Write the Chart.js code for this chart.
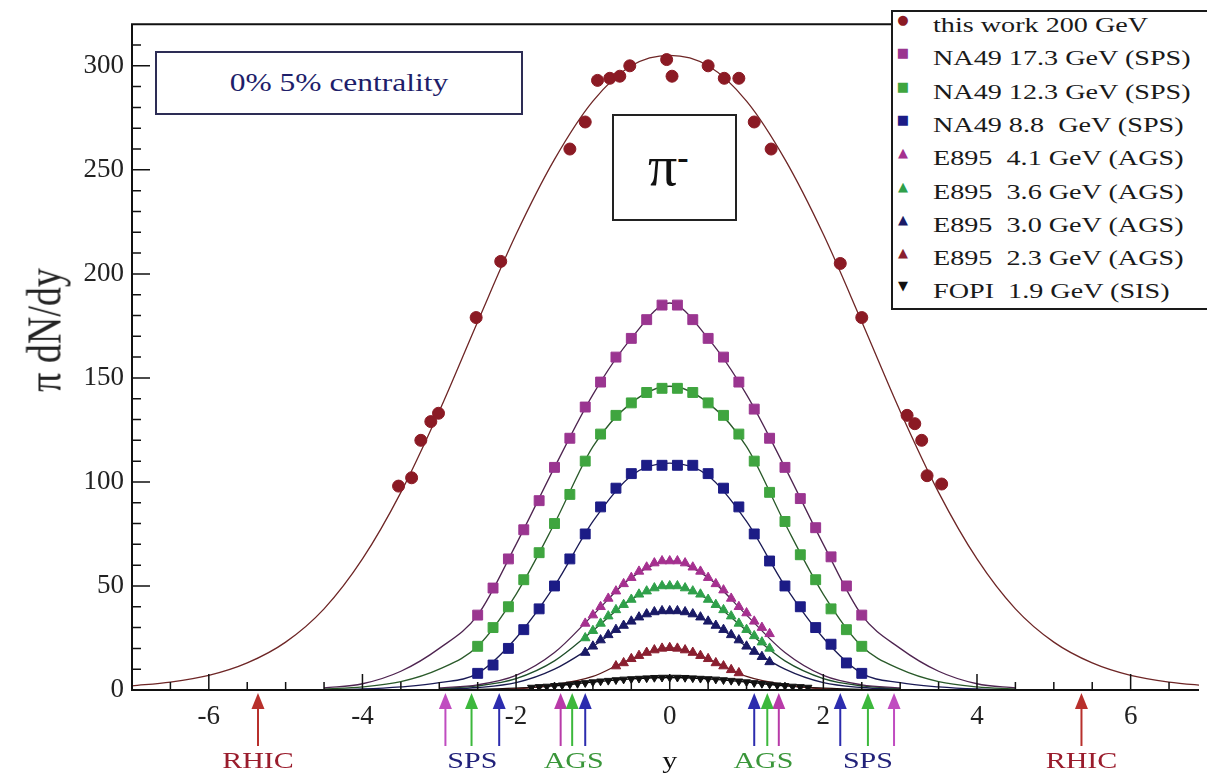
<!DOCTYPE html>
<html>
<head>
<meta charset="utf-8">
<title>pi- rapidity distributions</title>
<script src="https://cdn.jsdelivr.net/npm/chart.js@4.4.1/dist/chart.umd.min.js"></script>
<style>
    body { margin: 0; background: #fff; }
    #wrap { position: relative; width: 1207px; height: 779px; overflow: hidden; background: #fff; }
    #chart { position: absolute; left: 0; top: 0; }
    .box { position: absolute; box-sizing: border-box; background: #fff; }
    #centrality { left: 155px; top: 51px; width: 368px; height: 64px; border: 2px solid #2d2d55; }
    #centrality span {
        position: absolute; left: 50%; top: 50%; white-space: nowrap;
        transform: translate(-50%, -50%) scaleX(1.26);
        font: 25px "Liberation Serif", serif; color: #1e1e6a;
    }
    #pibox { left: 612px; top: 114px; width: 125px; height: 107px; border: 2px solid #222; }
    #pibox span {
        position: absolute; left: 34px; top: 22px;
        font: 58px "Liberation Serif", serif; color: #111; line-height: 56px;
    }
    #pibox sup { font-size: 34px; font-weight: bold; position: relative; top: -8px; vertical-align: top; }
    #ytitle {
        position: absolute; left: 44px; top: 330px; white-space: nowrap;
        transform: translate(-50%, -50%) rotate(-90deg) scaleY(1.25);
        font: 38px "Liberation Serif", serif; color: #222;
    }
    #legend { left: 891px; top: 10px; width: 340px; height: 300px; border: 2px solid #1a1a1a; }
    #legend .row { position: absolute; left: 0; height: 33px; line-height: 33px; width: 330px; }
    #legend .mk { position: absolute; left: 3px; width: 14px; text-align: center; font: 13px "DejaVu Sans", sans-serif; }
    #legend .tx {
        position: absolute; left: 40px; white-space: pre; transform: scaleX(1.28); transform-origin: left center;
        font: 22px "Liberation Serif", serif; color: #1a1a1a;
    }
</style>
</head>
<body>
<div id="wrap">
    <canvas id="chart" width="1207" height="779"></canvas>
    <div id="ytitle">π dN/dy</div>
    <div id="centrality" class="box"><span>0% 5% centrality</span></div>
    <div id="pibox" class="box"><span>π<sup>-</sup></span></div>
    <div id="legend" class="box"></div>
</div>
<script>
// ---- measured points: rapidity y and pi- dN/dy ----
const rapThisWork = [-3.53, -3.36, -3.24, -3.11, -3.01, -2.52, -2.20, -1.30, -1.10, -0.94, -0.78, -0.65, -0.52, -0.04,
    0.03, 0.50, 0.71, 0.90, 1.10, 1.32, 2.22, 2.50, 3.09, 3.19, 3.28, 3.35, 3.54];
const dndyThisWork = [98, 102, 120, 129, 133, 179, 206, 260, 273, 293, 294, 295, 300, 303,
    295, 300, 294, 294, 273, 260, 205, 179, 132, 128, 120, 103, 99];

const rapNA49 = [-2.5, -2.3, -2.1, -1.9, -1.7, -1.5, -1.3, -1.1, -0.9, -0.7, -0.5, -0.3, -0.1,
    0.1, 0.3, 0.5, 0.7, 0.9, 1.1, 1.3, 1.5, 1.7, 1.9, 2.1, 2.3, 2.5];
const dndyNA49_173 = [36, 49, 63, 77, 91, 107, 121, 136, 148, 160, 169, 178, 185,
    185, 178, 169, 160, 148, 135, 121, 107, 92, 78, 64, 50, 36];
const dndyNA49_123 = [21, 30, 40, 53, 66, 80, 94, 110, 123, 132, 138, 143, 145,
    145, 143, 138, 132, 123, 110, 95, 81, 65, 53, 39, 29, 21];
const dndyNA49_88 = [8, 12, 20, 29, 39, 50, 63, 75, 88, 97, 104, 108, 108,
    108, 108, 104, 97, 88, 75, 62, 50, 40, 30, 22, 13, 8];

const rapE895 = [-1.1, -1.0, -0.9, -0.8, -0.7, -0.6, -0.5, -0.4, -0.3, -0.2, -0.1, 0.0,
    0.1, 0.2, 0.3, 0.4, 0.5, 0.6, 0.7, 0.8, 0.9, 1.0, 1.1, 1.2, 1.3];
const dndyE895_41 = [32, 36, 40, 44, 47.5, 51, 54, 57, 59, 61, 62, 62,
    62, 61, 59, 57, 54, 51, 48, 44, 40, 37, 33, 30, 27];
const dndyE895_36 = [25, 28.5, 32, 35.5, 38.5, 41, 43.5, 46, 47.5, 49, 50, 50,
    50, 49, 47.5, 46, 43.5, 41, 38.5, 35.5, 32, 29, 26, 23, 20];
const dndyE895_30 = [18, 21, 24, 26.5, 29, 31, 33, 35, 36.5, 37.5, 38, 38,
    38, 37.5, 36.5, 35, 33, 31, 29, 26.5, 24, 21, 18.5, 16, 13.5];

const rapE895_23 = [-0.7, -0.6, -0.5, -0.4, -0.3, -0.2, -0.1, 0.0, 0.1, 0.2, 0.3, 0.4, 0.5, 0.6, 0.7, 0.8, 0.9];
const dndyE895_23 = [11.5, 13, 15, 16.5, 18, 19.2, 20, 20.3, 20, 19.2, 18, 16.5, 15, 13, 11.5, 9.7, 8.2];

const rapFOPI = [-1.8, -1.7, -1.6, -1.5, -1.4, -1.3, -1.2, -1.1, -1.0, -0.9, -0.8, -0.7, -0.6, -0.5, -0.4, -0.3, -0.2, -0.1,
    0.0, 0.1, 0.2, 0.3, 0.4, 0.5, 0.6, 0.7, 0.8, 0.9, 1.0, 1.1, 1.2, 1.3, 1.4, 1.5, 1.6, 1.7, 1.8];
const dndyFOPI = [1.2, 1.5, 1.7, 2.0, 2.3, 2.7, 3.0, 3.4, 3.8, 4.2, 4.5, 4.8, 5.1, 5.3, 5.5, 5.7, 5.9, 6.0,
    6.0, 6.0, 5.9, 5.7, 5.5, 5.3, 5.1, 4.8, 4.5, 4.2, 3.8, 3.4, 3.0, 2.7, 2.3, 2.0, 1.7, 1.5, 1.2];

// ---- fitted curves ----
const rapFitWide = [-7, -6.5, -6, -5.5, -5, -4.5, -4, -3.5, -3, -2.5, -2, -1.5, -1, -0.5, 0,
    0.5, 1, 1.5, 2, 2.5, 3, 3.5, 4, 4.5, 5, 5.5, 6, 6.5, 7];
const fitThisWork = [2, 3.8, 7, 13, 23, 39, 63, 95, 134, 177, 219, 255, 283, 300, 305,
    300, 283, 255, 219, 177, 134, 95, 63, 39, 23, 13, 7, 3.8, 2];

const rapFitNA49 = [-4.5, -4, -3.5, -3, -2.5, -2, -1.5, -1, -0.5, 0, 0.5, 1, 1.5, 2, 2.5, 3, 3.5, 4, 4.5];
const fitNA49_173 = [1, 3, 9, 20, 36, 70, 107, 142, 169, 186, 169, 142, 107, 70, 36, 20, 9, 3, 1];
const fitNA49_123 = [0.5, 1.5, 4, 10, 21, 46, 80, 117, 138, 146, 138, 117, 80, 46, 21, 10, 4, 1.5, 0.5];
const fitNA49_88 = [0.2, 0.5, 1.5, 3.5, 8, 25, 50, 81, 103, 109, 103, 81, 50, 25, 8, 3.5, 1.5, 0.5, 0.2];

const rapFitAGS = [-3, -2.5, -2, -1.5, -1, -0.5, 0, 0.5, 1, 1.5, 2, 2.5, 3];
const fitE895_41 = [1, 2.5, 7, 18, 36, 54, 62, 54, 36, 18, 7, 2.5, 1];
const fitE895_36 = [0.7, 2, 5.5, 14, 28.5, 43.5, 50, 43.5, 28.5, 14, 5.5, 2, 0.7];
const fitE895_30 = [0.4, 1.2, 3.5, 10, 21, 33, 38, 33, 21, 10, 3.5, 1.2, 0.4];
const fitE895_23 = [0.05, 0.1, 0.6, 2.5, 6.5, 15, 20.3, 15, 6.5, 2.5, 0.6, 0.1, 0.05];
const fitFOPI = [0.1, 0.3, 0.9, 2.0, 3.8, 5.3, 6.0, 5.3, 3.8, 2.0, 0.9, 0.3, 0.1];

// ---- axes and annotations ----
const xTickLabels = [-6, -4, -2, 0, 2, 4, 6];
const yTickLabels = [0, 50, 100, 150, 200, 250, 300];

const beamRapidity = [5.36, 2.92, 2.58, 2.22, 1.42, 1.27, 1.10];
const beamColors = ['#b8302c', '#c04cc0', '#3cb83c', '#2c2cae', '#b83aa8', '#3cb83c', '#2c2cae'];
const regionLabels = ['RHIC', 'SPS', 'AGS', 'y', 'AGS', 'SPS', 'RHIC'];
const regionRapidity = [-5.36, -2.57, -1.25, 0, 1.22, 2.58, 5.36];
const regionColors = ['#9a1c2c', '#22227a', '#3a963a', '#111', '#3a963a', '#22227a', '#9a1c2c'];

const legendLabels = ['this work 200 GeV', 'NA49 17.3 GeV (SPS)', 'NA49 12.3 GeV (SPS)', 'NA49 8.8  GeV (SPS)',
    'E895  4.1 GeV (AGS)', 'E895  3.6 GeV (AGS)', 'E895  3.0 GeV (AGS)', 'E895  2.3 GeV (AGS)', 'FOPI  1.9 GeV (SIS)'];
const legendGlyphs = ['●', '■', '■', '■', '▲', '▲', '▲', '▲', '▼'];
const seriesColors = ['#8b1a24', '#9a3590', '#3fa53f', '#1c1c86', '#a5308f', '#2fa04a', '#1a1a66', '#8a1f30', '#111111'];
const fitColors = ['#6e2626', '#4e2450', '#2a5a2a', '#1a1a55', '#4e2450', '#1f4f2a', '#1a1a50', '#5a1a1a', '#000000'];

function pts(xs, ys) {
    return xs.map((v, i) => ({ x: v, y: ys[i] }));
}

function markers(idx, xs, ys, style, radius, rotation) {
    return {
        data: pts(xs, ys),
        showLine: false,
        pointStyle: style,
        pointRadius: radius,
        pointRotation: rotation || 0,
        pointBackgroundColor: seriesColors[idx],
        pointBorderColor: seriesColors[idx],
        pointBorderWidth: 1,
        order: 1
    };
}

function fitLine(idx, xs, ys) {
    return {
        data: pts(xs, ys),
        showLine: true,
        pointRadius: 0,
        borderColor: fitColors[idx],
        borderWidth: 1.3,
        cubicInterpolationMode: 'monotone',
        order: 2
    };
}

const datasets = [
    fitLine(0, rapFitWide, fitThisWork),
    fitLine(1, rapFitNA49, fitNA49_173),
    fitLine(2, rapFitNA49, fitNA49_123),
    fitLine(3, rapFitNA49, fitNA49_88),
    fitLine(4, rapFitAGS, fitE895_41),
    fitLine(5, rapFitAGS, fitE895_36),
    fitLine(6, rapFitAGS, fitE895_30),
    fitLine(7, rapFitAGS, fitE895_23),
    fitLine(8, rapFitAGS, fitFOPI),
    markers(0, rapThisWork, dndyThisWork, 'circle', 6),
    markers(1, rapNA49, dndyNA49_173, 'rect', 7),
    markers(2, rapNA49, dndyNA49_123, 'rect', 7),
    markers(3, rapNA49, dndyNA49_88, 'rect', 7),
    markers(4, rapE895, dndyE895_41, 'triangle', 5.5),
    markers(5, rapE895, dndyE895_36, 'triangle', 5.5),
    markers(6, rapE895, dndyE895_30, 'triangle', 5.5),
    markers(7, rapE895_23, dndyE895_23, 'triangle', 5.5),
    markers(8, rapFOPI, dndyFOPI, 'triangle', 4.5, 180)
];

// frame and inward tick marks
const frameTicks = {
    id: 'frameTicks',
    afterDatasetsDraw(chart) {
        const { ctx, chartArea: a, scales: { x, y } } = chart;
        ctx.save();
        ctx.strokeStyle = '#111';
        ctx.lineWidth = 1.5;
        ctx.beginPath();
        for (let v = -7; v <= 7; v += 0.5) {
            const px = x.getPixelForValue(v);
            if (px < a.left + 2 || px > a.right - 1) continue;
            const len = v % 2 === 0 ? 16 : 8;
            ctx.moveTo(px, a.bottom);
            ctx.lineTo(px, a.bottom - len);
        }
        for (let v = 10; v <= 310; v += 10) {
            const py = y.getPixelForValue(v);
            const len = v % 50 === 0 ? 18 : 9;
            ctx.moveTo(a.left, py);
            ctx.lineTo(a.left + len, py);
        }
        ctx.stroke();

        ctx.lineWidth = 2;
        ctx.beginPath();
        ctx.moveTo(a.right, a.top);
        ctx.lineTo(a.left, a.top);
        ctx.lineTo(a.left, a.bottom);
        ctx.lineTo(a.right, a.bottom);
        ctx.stroke();
        ctx.restore();
    }
};

// beam rapidity arrows and the accelerator names under the axis
const beamMarks = {
    id: 'beamMarks',
    afterDraw(chart) {
        const { ctx, chartArea: a, scales: { x } } = chart;
        const base = a.bottom;
        ctx.save();
        beamRapidity.forEach((yb, i) => {
            [-yb, yb].forEach(v => {
                const px = x.getPixelForValue(v);
                ctx.strokeStyle = beamColors[i];
                ctx.fillStyle = beamColors[i];
                ctx.lineWidth = 2;
                ctx.beginPath();
                ctx.moveTo(px, base + 16);
                ctx.lineTo(px, base + 56);
                ctx.stroke();
                ctx.beginPath();
                ctx.moveTo(px, base + 3);
                ctx.lineTo(px - 6.5, base + 19);
                ctx.lineTo(px + 6.5, base + 19);
                ctx.closePath();
                ctx.fill();
            });
        });

        ctx.font = '24px "Liberation Serif", serif';
        ctx.textAlign = 'center';
        ctx.textBaseline = 'middle';
        regionLabels.forEach((t, i) => {
            ctx.save();
            ctx.translate(x.getPixelForValue(regionRapidity[i]), 762);
            ctx.scale(1.25, 1);
            ctx.fillStyle = regionColors[i];
            ctx.fillText(t, 0, 0);
            ctx.restore();
        });
        ctx.restore();
    }
};

const tickFont = { family: '"Liberation Serif", serif', size: 27 };

new Chart(document.getElementById('chart'), {
    type: 'scatter',
    data: { datasets },
    options: {
        responsive: false,
        animation: false,
        devicePixelRatio: 1,
        layout: { padding: { top: 11, right: 0, bottom: 0, left: 0 } },
        plugins: { legend: { display: false }, tooltip: { enabled: false } },
        scales: {
            x: {
                type: 'linear',
                min: -7,
                max: 6.89,
                grid: { display: false, drawTicks: false },
                border: { display: false },
                ticks: { font: tickFont, color: '#222', padding: 11 },
                afterBuildTicks: s => { s.ticks = xTickLabels.map(v => ({ value: v })); },
                afterFit: s => { s.height = 89; }
            },
            y: {
                type: 'linear',
                min: 0,
                max: 320,
                grid: { display: false, drawTicks: false },
                border: { display: false },
                ticks: { font: tickFont, color: '#222', padding: 8 },
                afterBuildTicks: s => { s.ticks = yTickLabels.map(v => ({ value: v })); },
                afterFit: s => { s.width = 132; }
            }
        }
    },
    plugins: [frameTicks, beamMarks]
});

// legend box in the upper right corner
const legendBox = document.getElementById('legend');
legendLabels.forEach((label, i) => {
    const row = document.createElement('div');
    row.className = 'row';
    row.style.top = (i * 33.3) + 'px';
    row.innerHTML = `<span class="mk" style="color:${seriesColors[i]}">${legendGlyphs[i]}</span><span class="tx">${label}</span>`;
    legendBox.appendChild(row);
});
</script>
</body>
</html>
